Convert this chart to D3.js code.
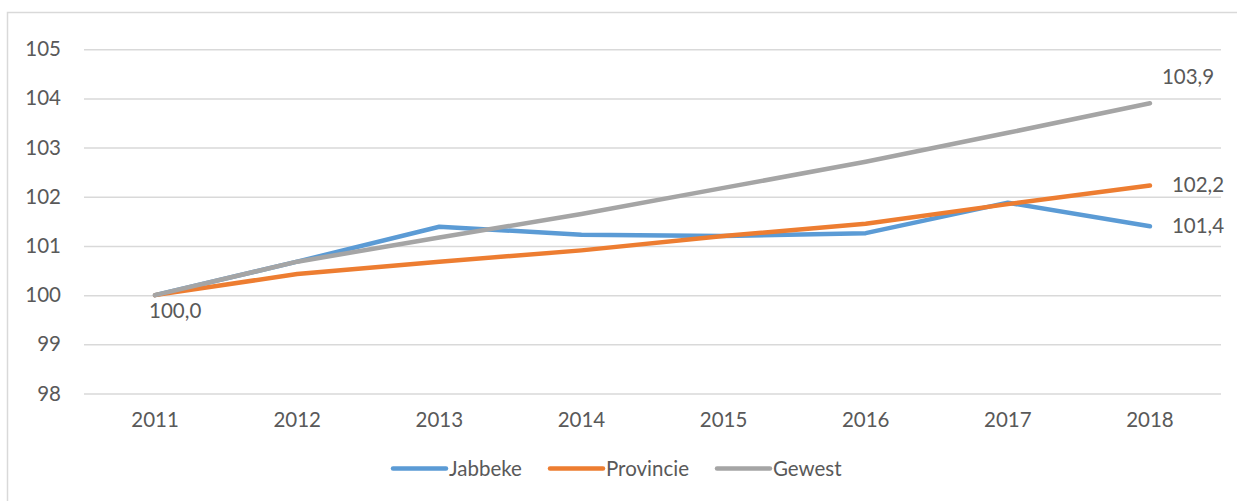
<!DOCTYPE html>
<html>
<head>
<meta charset="utf-8">
<script src="https://cdn.jsdelivr.net/npm/d3@7"></script>
<style>
  body { margin: 0; background: #fff; }
  svg text { font-family: Lato, "Open Sans", sans-serif; fill: #595959; }
</style>
</head>
<body>
<div id="chart"></div>
<script>
var years = ["2011", "2012", "2013", "2014", "2015", "2016", "2017", "2018"];
var jabbeke = [100.0, 100.68, 101.39, 101.23, 101.2, 101.26, 101.88, 101.4];
var provincie = [100.0, 100.43, 100.68, 100.91, 101.2, 101.45, 101.85, 102.23];
var gewest = [100.0, 100.68, 101.17, 101.65, 102.18, 102.71, 103.3, 103.9];
var yTicks = [98, 99, 100, 101, 102, 103, 104, 105];
var seriesNames = ["Jabbeke", "Provincie", "Gewest"];

function init() {
    var w = 1237, h = 501;
    var colors = ["#5B9BD5", "#ED7D31", "#A5A5A5"];
    var series = [jabbeke, provincie, gewest];
    var fs = "20.5px";

    var svg = d3.select("#chart")
        .append("svg")
        .attr("width", w)
        .attr("height", h);

    // chart area border (only top/left visible in the crop)
    svg.append("rect")
        .attr("x", 7.5).attr("y", 12.5)
        .attr("width", w + 10).attr("height", h + 10)
        .attr("fill", "none")
        .attr("stroke", "#d9d9d9")
        .attr("stroke-width", 1.5);

    var xScale = d3.scaleBand()
        .domain(years)
        .range([84, 1221]);

    var yScale = d3.scaleLinear()
        .domain([98, 105])
        .range([393.5, 49.2]);

    var xc = d => xScale(d) + xScale.bandwidth() / 2;

    // gridlines + y labels
    var yAxis = d3.axisLeft(yScale)
        .tickValues(yTicks)
        .tickSize(-(1221 - 84))
        .tickPadding(23)
        .tickFormat(d3.format("d"));

    var gy = svg.append("g")
        .attr("transform", "translate(84,0)")
        .call(yAxis);
    gy.select(".domain").remove();
    gy.selectAll(".tick line").attr("stroke", "#d9d9d9").attr("stroke-width", 1.5);
    gy.selectAll(".tick text")
        .attr("font-size", fs)
        .style("font-family", "Lato, sans-serif")
        .attr("fill", "#595959");

    // x labels
    var xAxis = d3.axisBottom(xScale).tickSize(0).tickPadding(19);
    var gx = svg.append("g")
        .attr("transform", "translate(0,393.5)")
        .call(xAxis);
    gx.select(".domain").remove();
    gx.selectAll(".tick text")
        .attr("font-size", fs)
        .style("font-family", "Lato, sans-serif")
        .attr("fill", "#595959");

    // lines
    var line = d3.line()
        .x((d, i) => xc(years[i]))
        .y(d => yScale(d));

    series.forEach(function (s, k) {
        svg.append("path")
            .datum(s)
            .attr("d", line)
            .attr("fill", "none")
            .attr("stroke", colors[k])
            .attr("stroke-width", 4.5)
            .attr("stroke-linecap", "round")
            .attr("stroke-linejoin", "round");
    });

    // data labels
    var last = years.length - 1;
    var labelFmt = v => d3.format(".1f")(v).replace(".", ",");
    var labels = [
        { v: jabbeke[0], x: xc(years[0]) - 6, y: yScale(jabbeke[0]) + 23 },
        { v: gewest[last], x: xc(years[last]) + 12, y: yScale(gewest[last]) - 19 },
        { v: provincie[last], x: xc(years[last]) + 22, y: yScale(provincie[last]) + 7 },
        { v: jabbeke[last], x: xc(years[last]) + 22, y: yScale(jabbeke[last]) + 7 }
    ];
    svg.selectAll(".dlabel")
        .data(labels)
        .enter()
        .append("text")
        .attr("class", "dlabel")
        .attr("x", d => d.x)
        .attr("y", d => d.y)
        .attr("font-size", fs)
        .text(d => labelFmt(d.v));

    // legend
    var legendX = [393, 550, 717];
    var legend = svg.selectAll(".legend")
        .data(seriesNames)
        .enter()
        .append("g")
        .attr("class", "legend")
        .attr("transform", (d, i) => `translate(${legendX[i]},468.5)`);
    legend.append("line")
        .attr("x1", 0).attr("x2", 53)
        .attr("stroke", (d, i) => colors[i])
        .attr("stroke-width", 4.5)
        .attr("stroke-linecap", "round");
    legend.append("text")
        .attr("x", 56)
        .attr("y", 7.5)
        .attr("font-size", fs)
        .text(d => d);
}

window.onload = init;
</script>
</body>
</html>
